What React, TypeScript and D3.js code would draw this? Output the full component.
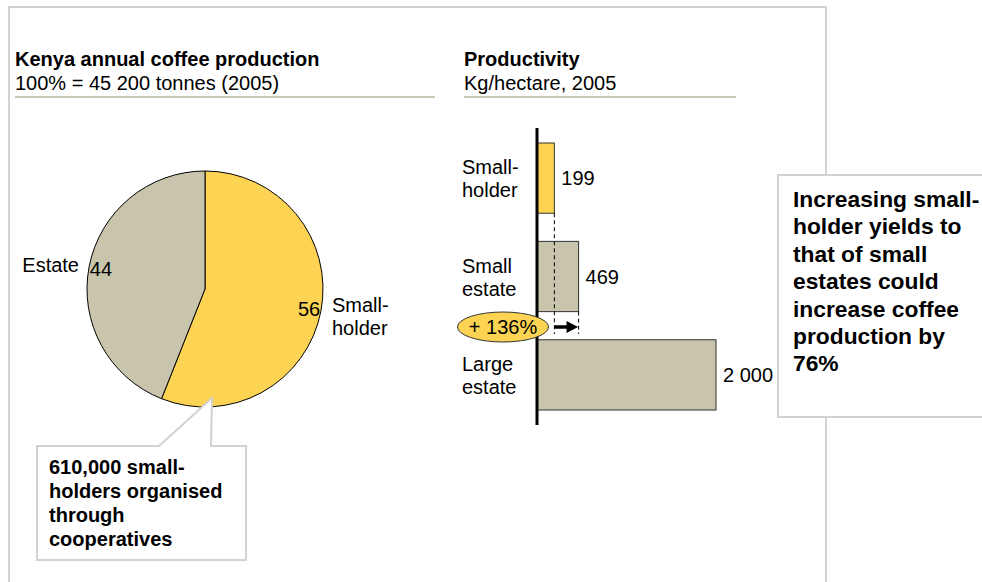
import React from "react";
import * as d3 from "d3";

const pieCategories = ["Small-holder", "Estate"];
const pieValues = [56, 44];
const barCategories = ["Smallholder", "Small estate", "Large estate"];
const barLabelLines = [["Small-", "holder"], ["Small", "estate"], ["Large", "estate"]];
const barValues = [199, 469, 2000];
const barValueLabels = ["199", "469", "2 000"];
const upliftLabel = "+ 136%";
const leftTitle = "Kenya annual coffee production";
const leftSubtitle = "100% = 45 200 tonnes (2005)";
const rightTitle = "Productivity";
const rightSubtitle = "Kg/hectare, 2005";
const noteLines = ["610,000 small-", "holders organised", "through", "cooperatives"];
const calloutLines = [
  "Increasing small-",
  "holder yields to",
  "that of small",
  "estates could",
  "increase coffee",
  "production by",
  "76%",
];

const YELLOW = "#FDD353";
const BEIGE = "#C9C5AD";
const RULE = "#CBC8B3";
const FRAME = "#D2D2D2";
const FONT = "'Liberation Sans', Arial, Helvetica, sans-serif";

export default function App() {
  const W = 982;
  const H = 582;

  // Pie
  const cx = 205;
  const cy = 289;
  const r = 118;
  const pieData = pieCategories.map((c, i) => ({ c, v: pieValues[i] }));
  const pie = d3.pie<any>().sort(null).value((d: any) => d.v).startAngle(0).endAngle(2 * Math.PI);
  const arcs = pie(pieData);
  const arc = d3.arc<any>().innerRadius(0).outerRadius(r);
  const labelArc = d3.arc<any>().innerRadius(106).outerRadius(106);
  const pieColors = [YELLOW, BEIGE];

  // Bars
  const x = d3.scaleLinear().domain([0, 2000]).range([536.5, 716]);
  const y = d3.scaleBand<string>().domain(barCategories).range([143, 410]).paddingInner(0.286).paddingOuter(0);
  const barColors = [YELLOW, BEIGE, BEIGE];
  const bw = y.bandwidth();

  const x0 = x(barValues[0]);
  const x1 = x(barValues[1]);
  const arrowY = 327;

  return (
    <div style={{ position: "absolute", left: 0, top: 0 }}>
      <svg width={W} height={H} style={{ display: "block", fontFamily: FONT }}>
        <rect x={0} y={0} width={W} height={H} fill="#fff" />
        {/* frame */}
        <path d={`M9,${H} L9,7 L826,7 L826,${H}`} fill="none" stroke={FRAME} strokeWidth={2} />

        {/* titles */}
        <text x={15} y={66} fontSize={20} fontWeight="bold" fill="#000">{leftTitle}</text>
        <text x={15} y={90} fontSize={20} fill="#000">{leftSubtitle}</text>
        <line x1={15} x2={435} y1={97} y2={97} stroke={RULE} strokeWidth={2} />
        <text x={464} y={66} fontSize={20} fontWeight="bold" fill="#000">{rightTitle}</text>
        <text x={464} y={90} fontSize={20} fill="#000">{rightSubtitle}</text>
        <line x1={464} x2={736} y1={97} y2={97} stroke={RULE} strokeWidth={2} />

        {/* pie */}
        <g transform={`translate(${cx},${cy})`}>
          {arcs.map((a, i) => (
            <path key={i} d={arc(a) as string} fill={pieColors[i]} stroke="#000" strokeWidth={1} />
          ))}
          {arcs.map((a, i) => {
            const [lx, ly] = labelArc.centroid(a);
            return (
              <text key={"l" + i} x={lx} y={ly} fontSize={20} textAnchor="middle" dominantBaseline="central" fill="#000">
                {a.data.v}
              </text>
            );
          })}
        </g>
        <text x={79} y={272} fontSize={20} textAnchor="end" fill="#000">Estate</text>
        <text x={332} y={312} fontSize={20} fill="#000">Small-</text>
        <text x={332} y={335} fontSize={20} fill="#000">holder</text>

        {/* note callout */}
        <path d="M37,446 L159,446 L212,398 L211,446 L246,446 L246,560 L37,560 Z" fill="#fff" stroke={FRAME} strokeWidth={2} strokeLinejoin="miter" />
        {noteLines.map((t, i) => (
          <text key={t} x={49} y={474 + i * 24} fontSize={20} fontWeight="bold" fill="#000">{t}</text>
        ))}

        {/* bars */}
        {barCategories.map((c, i) => (
          <rect key={c} x={x(0)} y={y(c)} width={x(barValues[i]) - x(0)} height={bw} fill={barColors[i]} stroke="#333" strokeWidth={1} />
        ))}
        {barCategories.map((c, i) => {
          const mid = (y(c) as number) + bw / 2;
          return (
            <g key={"lab" + c}>
              <text x={462} y={mid - 4} fontSize={20} fill="#000">{barLabelLines[i][0]}</text>
              <text x={462} y={mid + 19} fontSize={20} fill="#000">{barLabelLines[i][1]}</text>
              <text x={x(barValues[i]) + 7} y={mid + 7} fontSize={20} fill="#000">{barValueLabels[i]}</text>
            </g>
          );
        })}
        {/* dashed guides */}
        <line x1={x0} x2={x0} y1={(y(barCategories[0]) as number) + bw} y2={334} stroke="#000" strokeWidth={1} strokeDasharray="4,3" />
        <line x1={x1} x2={x1} y1={(y(barCategories[1]) as number) + bw} y2={334} stroke="#000" strokeWidth={1} strokeDasharray="4,3" />
        <line x1={x0} x2={x1 - 11} y1={arrowY} y2={arrowY} stroke="#000" strokeWidth={3.5} />
        <path d={`M${x1 - 12},${arrowY - 6} L${x1 - 0.5},${arrowY} L${x1 - 12},${arrowY + 6} Z`} fill="#000" />
        {/* axis */}
        <line x1={537} x2={537} y1={128} y2={425} stroke="#000" strokeWidth={3} />
        {/* uplift ellipse */}
        <ellipse cx={503} cy={arrowY} rx={45.5} ry={15} fill={YELLOW} stroke="#333" strokeWidth={1} />
        <text x={503} y={arrowY} fontSize={20} textAnchor="middle" dominantBaseline="central" fill="#000">{upliftLabel}</text>

        {/* right callout */}
        <rect x={778} y={175} width={230} height={242} fill="#fff" stroke={FRAME} strokeWidth={2} />
        {calloutLines.map((t, i) => (
          <text key={t} x={793} y={207 + i * 27.4} fontSize={22.8} fontWeight="bold" fill="#000">{t}</text>
        ))}
      </svg>
    </div>
  );
}
